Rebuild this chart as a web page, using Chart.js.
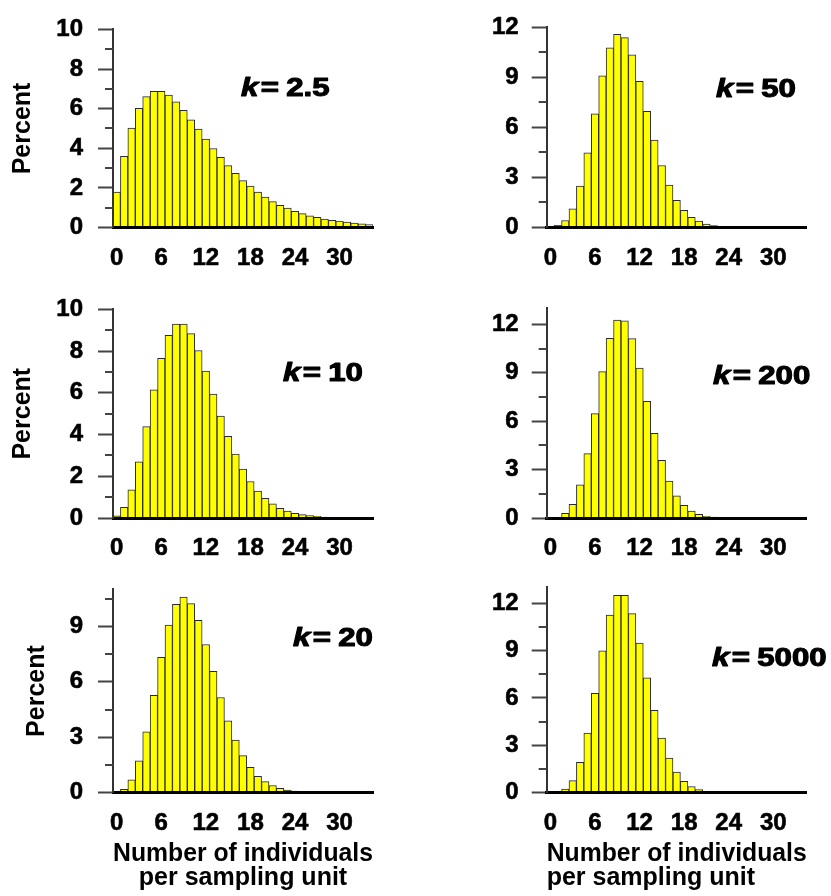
<!DOCTYPE html>
<html>
<head>
<meta charset="utf-8">
<script src="https://cdn.jsdelivr.net/npm/chart.js@4.4.1/dist/chart.umd.min.js"></script>
<style>
  html, body { margin: 0; padding: 0; background: #fff; }
  body { width: 831px; height: 896px; position: relative; overflow: hidden; }
  canvas { position: absolute; }
</style>
</head>
<body>
<canvas id="c1"></canvas>
<canvas id="c2"></canvas>
<canvas id="c3"></canvas>
<canvas id="c4"></canvas>
<canvas id="c5"></canvas>
<canvas id="c6"></canvas>
<script>
// ---------- data ----------
const categories = [0,1,2,3,4,5,6,7,8,9,10,11,12,13,14,15,16,17,18,19,20,21,22,23,24,25,26,27,28,29,30,31,32,33,34];
const xTickLabels = [0, 6, 12, 18, 24, 30];

const pct_k2_5  = [1.79,3.59,5.02,6.01,6.61,6.87,6.87,6.68,6.34,5.92,5.44,4.97,4.46,3.99,3.54,3.12,2.74,2.37,2.09,1.79,1.53,1.31,1.12,0.98,0.82,0.70,0.59,0.51,0.43,0.36,0.32,0.27,0.22,0.18,0.15];
const pct_k10   = [0.10,0.51,1.35,2.69,4.38,6.15,7.66,8.76,9.30,9.30,8.84,8.03,7.04,5.94,4.89,3.92,3.06,2.34,1.75,1.29,0.94,0.68,0.46,0.33,0.22,0.16,0.12,0.08,0.05,0.03,0.02,0.01,0.01,0,0];
const pct_k20   = [0.02,0.18,0.70,1.72,3.29,5.27,7.32,9.07,10.19,10.58,10.23,9.32,8.02,6.57,5.15,3.89,2.85,2.01,1.37,0.89,0.60,0.39,0.23,0.14,0.09,0.05,0.03,0.02,0.01,0,0,0,0,0,0];
const pct_k50   = [0.01,0.13,0.42,1.12,2.49,4.48,6.82,9.09,10.78,11.58,11.39,10.35,8.77,6.97,5.24,3.72,2.54,1.63,1.03,0.61,0.38,0.21,0.11,0.06,0.03,0.01,0,0,0,0,0,0,0,0,0];
const pct_k200  = [0,0.04,0.29,0.85,2.05,3.99,6.47,9.07,11.14,12.27,12.23,11.12,9.30,7.23,5.25,3.57,2.29,1.38,0.79,0.43,0.23,0.10,0.05,0.02,0.01,0,0,0,0,0,0,0,0,0,0];
const pct_k5000 = [0,0.05,0.23,0.76,1.92,3.77,6.29,8.99,11.24,12.49,12.49,11.34,9.48,7.28,5.22,3.46,2.19,1.30,0.72,0.39,0.19,0.08,0.04,0.02,0.01,0,0,0,0,0,0,0,0,0,0];

const yTicksTen     = [0, 2, 4, 6, 8, 10];
const yMinorTen     = [1, 3, 5, 7, 9];
const yTicksThree12 = [0, 3, 6, 9, 12];
const yTicksThree9  = [0, 3, 6, 9];
const yMinorThree   = [1.5, 4.5, 7.5, 10.5];

const kValues = ['2.5', '50', '10', '200', '20', '5000'];

// ---------- styles / layout ----------
const FONT = '"Liberation Sans", Arial, Helvetica, sans-serif';

const panels = [
  { id:'c1', data:pct_k2_5,  k:kValues[0], yMax:10, yTicks:yTicksTen,     yMinor:yMinorTen,   cx:0,   cy:0,   cw:415, ch:280, left:113,   top:17.5,  right:373,   bottom:227.5, yTitle:true,  yTitlePad:8,  xTitle:false, kx:241, ky:96,  tickPad:15 },
  { id:'c2', data:pct_k50,   k:kValues[1], yMax:12, yTicks:yTicksThree12, yMinor:yMinorThree, cx:415, cy:0,   cw:416, ch:280, left:546.7, top:17.5,  right:806.7, bottom:227.5, yTitle:false, xTitle:false, kx:716, ky:97,  tickPad:13 },
  { id:'c3', data:pct_k10,   k:kValues[2], yMax:10, yTicks:yTicksTen,     yMinor:yMinorTen,   cx:0,   cy:280, cw:415, ch:280, left:113,   top:308.7, right:373,   bottom:518,   yTitle:true,  yTitlePad:8,  xTitle:false, kx:283, ky:381, tickPad:15 },
  { id:'c4', data:pct_k200,  k:kValues[3], yMax:13, yTicks:yTicksThree12, yMinor:yMinorThree, cx:415, cy:280, cw:416, ch:280, left:546.7, top:308.3, right:806.7, bottom:518,   yTitle:false, xTitle:false, kx:713, ky:384, tickPad:13 },
  { id:'c5', data:pct_k20,   k:kValues[4], yMax:11, yTicks:yTicksThree9,  yMinor:yMinorThree, cx:0,   cy:560, cw:415, ch:336, left:113,   top:582.7, right:373,   bottom:792.7, yTitle:true,  yTitlePad:22, xTitle:true, xAlign:'center', kx:293, ky:646, tickPad:15 },
  { id:'c6', data:pct_k5000, k:kValues[5], yMax:13, yTicks:yTicksThree12, yMinor:yMinorThree, cx:415, cy:560, cw:416, ch:336, left:546.7, top:582.7, right:806.7, bottom:792.7, yTitle:false, xTitle:true, xAlign:'start', kx:712, ky:666, tickPad:13 }
];

// minor ticks drawn through the y scale
const minorTickPlugin = {
  id: 'minorTicks',
  afterDraw(chart, args, opts) {
    const y = chart.scales.y;
    const ctx = chart.ctx;
    const x0 = chart.chartArea.left;
    ctx.save();
    ctx.strokeStyle = opts.color;
    ctx.lineWidth = opts.width;
    (opts.values || []).forEach(v => {
      const py = Math.round(y.getPixelForValue(v));
      ctx.beginPath();
      ctx.moveTo(x0 - opts.length, py);
      ctx.lineTo(x0, py);
      ctx.stroke();
    });
    ctx.restore();
  }
};

// "k = value" annotation
const kLabelPlugin = {
  id: 'kLabel',
  afterDraw(chart, args, opts) {
    const ctx = chart.ctx;
    ctx.save();
    ctx.translate(opts.x, opts.y);
    ctx.scale(opts.sx, 1);
    ctx.fillStyle = '#000';
    ctx.strokeStyle = '#000';
    ctx.lineWidth = 1.1;
    ctx.lineJoin = 'round';
    ctx.textAlign = 'left';
    ctx.textBaseline = 'alphabetic';
    ctx.font = 'italic bold ' + opts.size + 'px ' + FONT;
    ctx.fillText('k', 0, 0);
    ctx.strokeText('k', 0, 0);
    let w = ctx.measureText('k').width + 2;
    ctx.font = 'bold ' + opts.size + 'px ' + FONT;
    ctx.fillText('=', w, 0);
    ctx.strokeText('=', w, 0);
    w += ctx.measureText('=').width + 6;
    ctx.fillText(opts.text, w, 0);
    ctx.strokeText(opts.text, w, 0);
    ctx.restore();
  }
};

panels.forEach(p => {
  const cv = document.getElementById(p.id);
  cv.width = p.cw; cv.height = p.ch;
  cv.style.left = p.cx + 'px'; cv.style.top = p.cy + 'px';
  cv.style.width = p.cw + 'px'; cv.style.height = p.ch + 'px';

  const yW = p.left - p.cx;
  const xH = (p.cy + p.ch) - p.bottom;

  new Chart(cv, {
    type: 'bar',
    data: {
      labels: categories,
      datasets: [{
        data: p.data,
        backgroundColor: '#FFFF00',
        borderColor: '#2a2a2a',
        borderWidth: 1,
        borderSkipped: 'bottom',
        barPercentage: 1.0,
        categoryPercentage: 1.0
      }]
    },
    options: {
      responsive: false,
      animation: false,
      devicePixelRatio: 1,
      layout: { padding: { left: 0, top: p.top - p.cy, right: (p.cx + p.cw) - p.right, bottom: 0 } },
      plugins: {
        legend: { display: false },
        tooltip: { enabled: false },
        minorTicks: { values: p.yMinor, length: 8, color: '#444', width: 2 },
        kLabel: { x: p.kx - p.cx, y: p.ky - p.cy, text: p.k, size: 26, sx: 1.2 }
      },
      scales: {
        x: {
          type: 'category',
          offset: true,
          grid: { display: false, drawTicks: false, tickLength: 0 },
          border: { display: true, color: '#000', width: 3, z: 1 },
          ticks: {
            autoSkip: false, maxRotation: 0, minRotation: 0,
            padding: 16,
            color: '#000',
            textStrokeColor: '#000',
            textStrokeWidth: 0.6,
            font: { family: FONT, size: 24, weight: 'bold' },
            callback: function(val, idx) {
              const c = categories[idx];
              return xTickLabels.includes(c) ? String(c) : '';
            }
          },
          title: {
            display: p.xTitle,
            text: ['Number of individuals', 'per sampling unit'],
            align: p.xAlign || 'center',
            color: '#000',
            font: { family: FONT, size: 25, weight: 'bold', lineHeight: 0.95 },
            padding: { top: 0, bottom: 6 }
          },
          afterFit: s => { s.height = xH; }
        },
        y: {
          type: 'linear',
          min: 0, max: p.yMax,
          grid: { display: true, drawOnChartArea: false, drawTicks: true, tickLength: 15, tickColor: '#444', tickWidth: 2 },
          border: { display: true, color: '#333', width: 2, z: 1 },
          afterBuildTicks: s => { s.ticks = p.yTicks.map(v => ({ value: v })); },
          ticks: {
            padding: p.tickPad,
            color: '#000',
            textStrokeColor: '#000',
            textStrokeWidth: 0.6,
            font: { family: FONT, size: 24, weight: 'bold' }
          },
          title: {
            display: p.yTitle,
            text: 'Percent',
            color: '#000',
            font: { family: FONT, size: 25, weight: 'bold' },
            padding: { top: p.yTitlePad || 0, bottom: 0 }
          },
          afterFit: s => { s.width = yW; }
        }
      }
    },
    plugins: [minorTickPlugin, kLabelPlugin]
  });
});
</script>
</body>
</html>
